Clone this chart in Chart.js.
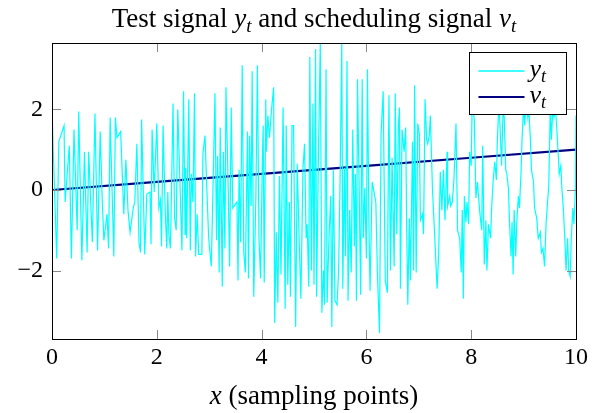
<!DOCTYPE html>
<html>
<head>
<meta charset="utf-8">
<script src="https://cdn.jsdelivr.net/npm/chart.js@4.4.1/dist/chart.umd.min.js"></script>
<style>
  html, body { margin: 0; padding: 0; background: #fff; }
  #wrap { width: 592px; height: 413px; position: relative; }
</style>
</head>
<body>
<div id="wrap"><canvas id="signalChart"></canvas></div>
<script>
// sampling positions and test signal y_t
const sampleX = [
  0, 0.09, 0.13, 0.23, 0.25, 0.33, 0.37, 0.42, 0.48, 0.51, 0.57, 0.62, 0.67, 0.70, 0.77, 0.82, 0.87, 0.92, 0.96, 0.99,
  1.05, 1.08, 1.11, 1.18, 1.21, 1.24, 1.31, 1.37, 1.41, 1.45, 1.49, 1.55, 1.58, 1.62, 1.66,
  1.69, 1.71, 1.77, 1.81, 1.87, 1.89, 1.91, 1.95, 2.00, 2.04, 2.07, 2.09, 2.12, 2.16, 2.19, 2.21, 2.23, 2.26, 2.28, 2.31,
  2.34, 2.37, 2.40, 2.44, 2.48, 2.51, 2.54, 2.55, 2.57, 2.61, 2.64, 2.66, 2.69, 2.72, 2.74, 2.77, 2.80, 2.86, 2.88, 2.92,
  2.95, 2.99, 3.04, 3.08, 3.11, 3.14, 3.16, 3.19, 3.21, 3.25, 3.27, 3.30, 3.32,
  3.36, 3.39, 3.42, 3.45, 3.50, 3.53, 3.55, 3.57, 3.60, 3.63, 3.66, 3.69, 3.73, 3.75, 3.77, 3.80, 3.82, 3.85, 3.89, 3.92,
  3.95, 3.98, 4.01, 4.03, 4.05, 4.08, 4.09, 4.12, 4.15, 4.19, 4.23, 4.25, 4.28, 4.31, 4.34, 4.37, 4.41, 4.45, 4.47, 4.50,
  4.53, 4.55, 4.58, 4.61, 4.65, 4.68, 4.72, 4.75, 4.79, 4.82, 4.85, 4.87, 4.90, 4.92, 4.95, 4.98, 5.00,
  5.03, 5.05, 5.08, 5.12, 5.15, 5.18, 5.20, 5.23, 5.25, 5.29, 5.32, 5.34, 5.37, 5.40, 5.44, 5.47, 5.50, 5.53, 5.55, 5.58,
  5.60, 5.63, 5.65, 5.68, 5.71, 5.74, 5.77, 5.79, 5.81, 5.83, 5.86, 5.89, 5.92, 5.94, 5.97, 6.00, 6.02, 6.05, 6.07, 6.11,
  6.18, 6.21, 6.25, 6.28, 6.32, 6.36, 6.40, 6.43, 6.46, 6.49, 6.53, 6.55, 6.58, 6.61, 6.63, 6.65, 6.68,
  6.72, 6.75, 6.77, 6.79, 6.82, 6.84, 6.88, 6.90, 6.92, 6.95, 6.98, 7.01, 7.03, 7.07, 7.09, 7.12, 7.15, 7.17, 7.20, 7.22,
  7.26, 7.30, 7.35, 7.38, 7.41, 7.44, 7.47, 7.50, 7.54, 7.55, 7.59, 7.61, 7.64, 7.67, 7.71, 7.74, 7.78, 7.81, 7.83, 7.85,
  7.87, 7.90, 7.92, 7.95, 7.97, 8.00, 8.02, 8.06, 8.09, 8.12, 8.16, 8.20, 8.22, 8.25, 8.28, 8.30, 8.33, 8.37,
  8.39, 8.42, 8.45, 8.48, 8.50, 8.53, 8.56, 8.58, 8.61, 8.63, 8.66, 8.68, 8.71, 8.73, 8.76, 8.78, 8.80, 8.82, 8.85, 8.87,
  8.90, 8.92, 8.95, 8.97, 9.00, 9.02, 9.05, 9.08, 9.10, 9.13, 9.15, 9.19, 9.21, 9.25, 9.28, 9.32, 9.34, 9.37, 9.40, 9.43,
  9.46, 9.48, 9.51, 9.53, 9.56, 9.58, 9.61, 9.63, 9.66, 9.68, 9.71, 9.73, 9.76, 9.79, 9.81, 9.84, 9.86, 9.89, 9.91, 9.94,
  9.96, 9.99, 10.0
];
const signalY = [
  2.0, -1.7, 1.2, 1.6, -0.3, 1.1, -1.7, 1.5, -1.0, 1.95, -1.75, 0.95, -1.55, 0.95, -1.3, 1.9, -1.5, 1.45, -0.3, -1.25,
  -0.6, -1.45, 1.8, -1.65, 1.8, 1.3, 1.45, -0.6, 0.75, -0.5, -1.05, -0.45, -0.3, 1.15, -1.3,
  -1.55, 1.75, -1.6, -0.1, -0.05, -1.35, 1.5, -0.05, 1.65, -0.45, -0.25, -1.4, 1.6, -0.5, -1.45, -0.05, -1.1, -1.45, -0.05, 2.15,
  -0.7, -1.0, 2.0, 0.25, -1.5, 2.45, -1.1, 0.55, -1.2, 2.25, -1.5, 0.4, -0.3, 2.4, -1.65, -0.6, -1.6, -1.6, 0.9, 1.35,
  0.2, -1.2, -1.9, 0.5, 2.4, -1.25, 0.85, -2.05, 1.55, -2.4, 0.95, -1.45, 2.55,
  0.2, -1.9, 2.05, -0.45, -0.35, -0.3, -2.25, 0.5, -1.3, 3.1, -1.55, -2.05, 1.45, -2.2, 1.35, -0.4, 2.95, -2.65, -0.25, 3.1,
  -1.2, -2.2, 0.4, 1.6, -2.3, 2.25, 0.95, 1.85, 1.3, 2.0, 2.55, -3.3, -1.05, -2.8, 0.35, -2.1, 2.05, -2.95, 1.6, -2.35,
  -0.3, -2.65, 1.6, 1.6, -3.4, 0.65, -1.4, -2.7, 0.55, 1.15, -1.2, -0.85, -2.4, 3.3, -2.0, 2.15, -2.35,
  3.5, -2.65, 0.45, 3.65, -3.05, -2.0, -2.85, 3.0, -2.8, -1.05, -0.15, -3.4, 0.5, -2.75, -2.85, -2.0, 0.45, 3.65, -2.45, 0.55,
  -1.65, 3.2, -2.75, -0.5, -2.05, 1.5, -1.4, 0.4, -2.75, 2.75, 0.2, -2.6, 2.75, -1.2, 0.05, -1.7, 3.0, -1.05, -2.5, 0.2,
  -0.3, -2.05, -3.55, 1.4, 2.45, -2.25, -2.55, 2.35, -2.0, 0.8, -1.9, 2.4, -1.1, 1.55, 2.05, -2.45, 1.5,
  0.95, 1.55, -1.05, -2.85, -0.7, -2.25, 1.2, -2.0, 2.6, -2.05, 1.65, 1.4, -0.75, -0.6, -1.1, 2.25, 1.25, 1.15, 1.35, 1.85,
  0.05, -1.05, -2.45, -1.55, 0.45, -0.5, 0.5, -0.75, 0.95, -0.4, -0.15, -0.4, -0.3, 0.25, 1.65, -1.0, -1.2, -2.05, -0.5, -2.7,
  -0.15, -0.8, -0.3, -0.85, 0.95, 0.6, 2.3, 1.7, -0.2, 0.2, -0.5, -1.0, 1.1, -1.85, -0.75, -2.0, -0.85, -1.2,
  -0.45, 0.25, 0.7, 0.25, 1.25, 2.2, 1.25, 0.6, 2.1, 1.8, 0.5, 0.4, 0.05, -0.75, -1.65, -0.8, -2.1, -0.5, -1.65, -0.8,
  -0.15, -0.45, 0.4, 1.25, 2.1, 1.6, 2.2, 1.8, 2.0, 1.25, 0.5, 0.2, -0.45, -0.7, -1.2, -1.05, -1.55, -1.45, -1.9, -0.8,
  -0.25, 0.1, 2.1, 1.25, 2.1, 1.8, 2.0, 1.6, 0.9, 0.4, 0.6, 0.05, -0.5, -1.3, -2.0, -1.2, -2.0, -2.15, -1.2, -0.45,
  -0.85, 0.05, 1.85
];

// scheduling signal v_t
const schedX = [0, 2, 4, 6, 8, 10];
const schedV = [0, 0.2, 0.4, 0.6, 0.8, 1.0];

const xTicks = [0, 2, 4, 6, 8, 10];
const yTicks = [-2, 0, 2];

const serif = "'Liberation Serif', 'DejaVu Serif', serif";
const textSize = 27;
const tickSize = 24;
const cyan = '#00ffff';
const navy = '#000080';

// draw a run of text pieces: [text, italic, subscript]
function drawMath(ctx, parts, x, y, size, align) {
    const fontOf = p => (p[1] ? 'italic ' : '') + (p[2] ? Math.round(size * 0.7) : size) + 'px ' + serif;
    let total = 0;
    parts.forEach(p => { ctx.font = fontOf(p); total += ctx.measureText(p[0]).width; });
    let cx = align === 'center' ? x - total / 2 : x;
    ctx.textAlign = 'left';
    parts.forEach(p => {
        ctx.font = fontOf(p);
        ctx.fillText(p[0], cx, p[2] ? y + size * 0.2 : y);
        cx += ctx.measureText(p[0]).width;
    });
}

// frame, inward ticks, legend, title and axis label (pgfplots look)
const decorPlugin = {
    id: 'decor',
    afterDatasetsDraw(chart) {
        const { ctx, chartArea: a, scales } = chart;
        ctx.save();
        ctx.strokeStyle = '#888';
        ctx.lineWidth = 1;
        const tl = 9;
        xTicks.forEach(t => {
            const px = Math.round(scales.x.getPixelForValue(t)) + 0.5;
            ctx.beginPath();
            ctx.moveTo(px, a.bottom); ctx.lineTo(px, a.bottom - tl);
            ctx.moveTo(px, a.top); ctx.lineTo(px, a.top + tl);
            ctx.stroke();
        });
        yTicks.forEach(t => {
            const py = Math.round(scales.y.getPixelForValue(t)) + 0.5;
            ctx.beginPath();
            ctx.moveTo(a.left, py); ctx.lineTo(a.left + tl, py);
            ctx.moveTo(a.right, py); ctx.lineTo(a.right - tl, py);
            ctx.stroke();
        });
        ctx.strokeStyle = '#000';
        ctx.strokeRect(Math.round(a.left) + 0.5, Math.round(a.top) + 0.5,
            Math.round(a.right - a.left), Math.round(a.bottom - a.top));

        // legend
        const bw = 97, bh = 62;
        const bx = Math.round(a.right - 10 - bw) + 0.5, by = Math.round(a.top + 9) + 0.5;
        ctx.fillStyle = '#fff';
        ctx.fillRect(bx, by, bw, bh);
        ctx.strokeStyle = '#000';
        ctx.strokeRect(bx, by, bw, bh);
        const rows = [[cyan, 1.6, 'y', by + 18.5], [navy, 2.2, 'v', by + 44.5]];
        rows.forEach(r => {
            ctx.strokeStyle = r[0];
            ctx.lineWidth = r[1];
            ctx.beginPath();
            ctx.moveTo(bx + 9, r[3]); ctx.lineTo(bx + 55, r[3]);
            ctx.stroke();
            ctx.fillStyle = '#000';
            ctx.textBaseline = 'alphabetic';
            drawMath(ctx, [[r[2], true, false], ['t', true, true]], bx + 60, r[3] + 6, 26, 'left');
        });

        // title and x label
        const mid = (a.left + a.right) / 2;
        ctx.fillStyle = '#000';
        ctx.textBaseline = 'alphabetic';
        drawMath(ctx, [['Test signal ', false, false], ['y', true, false], ['t', true, true],
            [' and scheduling signal ', false, false], ['v', true, false], ['t', true, true]],
            mid, 27, textSize, 'center');
        drawMath(ctx, [['x', true, false], [' (sampling points)', false, false]], mid, 404, textSize, 'center');
        ctx.restore();
    }
};

const ctx = document.getElementById('signalChart').getContext('2d');
const signalChart = new Chart(ctx, {
    type: 'line',
    data: {
        datasets: [
            {
                label: 'y_t',
                data: sampleX.map((x, i) => ({ x: x, y: signalY[i] })),
                borderColor: cyan,
                borderWidth: 1.2,
                pointRadius: 0,
                tension: 0,
            },
            {
                label: 'v_t',
                data: schedX.map((x, i) => ({ x: x, y: schedV[i] })),
                borderColor: navy,
                borderWidth: 2.2,
                pointRadius: 0,
                tension: 0,
            },
        ],
    },
    options: {
        responsive: true,
        maintainAspectRatio: false,
        animation: false,
        events: [],
        layout: { padding: { left: 0, right: 14, top: 43, bottom: 0 } },
        plugins: { legend: { display: false }, tooltip: { enabled: false } },
        scales: {
            x: {
                type: 'linear',
                min: 0,
                max: 10,
                afterBuildTicks: s => { s.ticks = xTicks.map(v => ({ value: v })); },
                afterFit: s => { s.height = 74; },
                grid: { display: false, drawTicks: false },
                border: { display: false },
                ticks: { color: '#000', padding: 4, font: { family: serif, size: tickSize } },
            },
            y: {
                type: 'linear',
                min: -3.7,
                max: 3.65,
                afterBuildTicks: s => { s.ticks = yTicks.map(v => ({ value: v })); },
                afterFit: s => { s.width = 52; },
                grid: { display: false, drawTicks: false },
                border: { display: false },
                ticks: {
                    color: '#000',
                    padding: 9,
                    font: { family: serif, size: tickSize },
                    callback: v => String(v).replace('-', '\u2212'),
                },
            },
        },
    },
    plugins: [decorPlugin],
});
</script>
</body>
</html>
